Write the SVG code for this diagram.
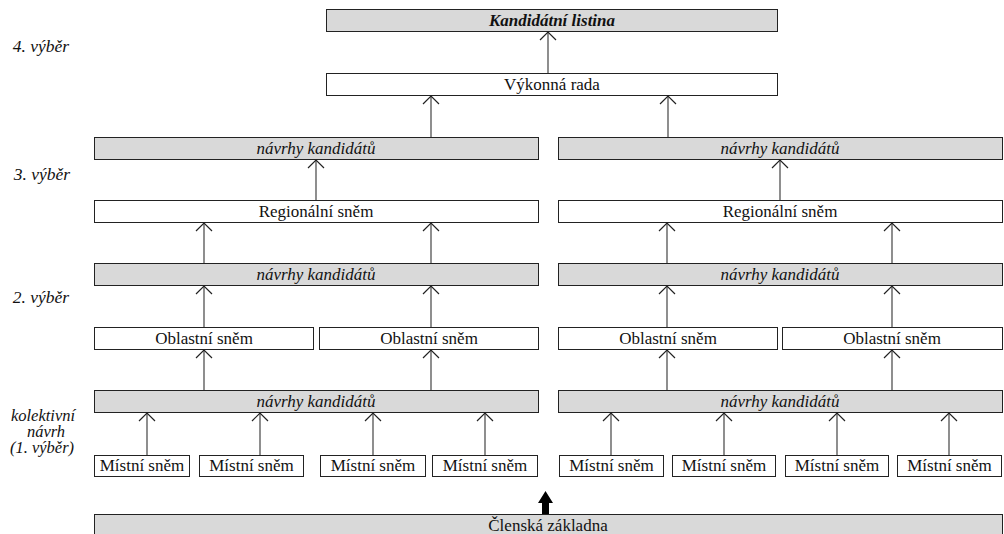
<svg xmlns="http://www.w3.org/2000/svg" width="1004" height="534" viewBox="0 0 1004 534">
  <style>
    .box { fill: #ffffff; stroke: #222; stroke-width: 1; }
    .shade { fill: #d9d9d9; stroke: #222; stroke-width: 1; }
    .t { font-size: 17px; fill: #111; text-anchor: middle; }
    .i { font-style: italic; }
    .b { font-weight: bold; }
    .lbl { font-size: 17.5px; font-style: italic; fill: #111; text-anchor: middle; }
    .lbl2 { font-size: 16.5px; font-style: italic; fill: #111; text-anchor: middle; }
    .conn line { stroke: #444; stroke-width: 1.2; fill: none; }
  </style>
  <defs>
    <marker id="open" viewBox="0 0 20 20" refX="10" refY="10" markerWidth="20" markerHeight="20" markerUnits="userSpaceOnUse" orient="auto">
      <path d="M2 2 L10 10 L2 18" fill="none" stroke="#222" stroke-width="1.2"/>
    </marker>
  </defs>

  <g font-family="'Liberation Serif', 'Times New Roman', 'DejaVu Serif', serif">
  <!-- level labels -->
  <g id="levels">
    <text class="lbl" x="41" y="52">4. výběr</text>
    <text class="lbl" x="42" y="180">3. výběr</text>
    <text class="lbl" x="41" y="303">2. výběr</text>
    <text class="lbl2" x="43" y="421">kolektivní</text>
    <text class="lbl2" x="46" y="437">návrh</text>
    <text class="lbl2" x="42" y="453">(1. výběr)</text>
  </g>

  <!-- top level -->
  <g id="kandidatni-listina">
    <rect class="shade" x="326.5" y="9.5" width="451" height="22"/>
    <text class="t i b" x="552" y="26">Kandidátní listina</text>
  </g>
  <g id="vykonna-rada">
    <rect class="box" x="326.5" y="73.5" width="451" height="22"/>
    <text class="t" x="552" y="90">Výkonná rada</text>
  </g>

  <!-- regional proposals -->
  <g id="navrhy-3-l">
    <rect class="shade" x="94.5" y="137.5" width="444" height="22"/>
    <text class="t i" x="316" y="154">návrhy kandidátů</text>
  </g>
  <g id="navrhy-3-r">
    <rect class="shade" x="558.5" y="137.5" width="444" height="22"/>
    <text class="t i" x="780" y="154">návrhy kandidátů</text>
  </g>
  <g id="regionalni-l">
    <rect class="box" x="94.5" y="200.5" width="444" height="22"/>
    <text class="t" x="316" y="217">Regionální sněm</text>
  </g>
  <g id="regionalni-r">
    <rect class="box" x="558.5" y="200.5" width="444" height="22"/>
    <text class="t" x="780" y="217">Regionální sněm</text>
  </g>

  <!-- area proposals -->
  <g id="navrhy-2-l">
    <rect class="shade" x="94.5" y="263.5" width="444" height="22"/>
    <text class="t i" x="316" y="280">návrhy kandidátů</text>
  </g>
  <g id="navrhy-2-r">
    <rect class="shade" x="558.5" y="263.5" width="444" height="22"/>
    <text class="t i" x="780" y="280">návrhy kandidátů</text>
  </g>
  <g id="oblastni-1">
    <rect class="box" x="94.5" y="327.5" width="219" height="22"/>
    <text class="t" x="204" y="344">Oblastní sněm</text>
  </g>
  <g id="oblastni-2">
    <rect class="box" x="319.5" y="327.5" width="219" height="22"/>
    <text class="t" x="429" y="344">Oblastní sněm</text>
  </g>
  <g id="oblastni-3">
    <rect class="box" x="558.5" y="327.5" width="219" height="22"/>
    <text class="t" x="668" y="344">Oblastní sněm</text>
  </g>
  <g id="oblastni-4">
    <rect class="box" x="782.5" y="327.5" width="220" height="22"/>
    <text class="t" x="892" y="344">Oblastní sněm</text>
  </g>

  <!-- local proposals -->
  <g id="navrhy-1-l">
    <rect class="shade" x="94.5" y="390.5" width="444" height="22"/>
    <text class="t i" x="316" y="407">návrhy kandidátů</text>
  </g>
  <g id="navrhy-1-r">
    <rect class="shade" x="558.5" y="390.5" width="444" height="22"/>
    <text class="t i" x="780" y="407">návrhy kandidátů</text>
  </g>
  <g id="mistni-1">
    <rect class="box" x="94.5" y="455.5" width="95" height="21"/>
    <text class="t" x="142" y="471">Místní sněm</text>
  </g>
  <g id="mistni-2">
    <rect class="box" x="199.5" y="455.5" width="104" height="21"/>
    <text class="t" x="251.5" y="471">Místní sněm</text>
  </g>
  <g id="mistni-3">
    <rect class="box" x="320.5" y="455.5" width="105" height="21"/>
    <text class="t" x="373" y="471">Místní sněm</text>
  </g>
  <g id="mistni-4">
    <rect class="box" x="432.5" y="455.5" width="105" height="21"/>
    <text class="t" x="485" y="471">Místní sněm</text>
  </g>
  <g id="mistni-5">
    <rect class="box" x="559.5" y="455.5" width="104" height="21"/>
    <text class="t" x="611.5" y="471">Místní sněm</text>
  </g>
  <g id="mistni-6">
    <rect class="box" x="672.5" y="455.5" width="103" height="21"/>
    <text class="t" x="724" y="471">Místní sněm</text>
  </g>
  <g id="mistni-7">
    <rect class="box" x="785.5" y="455.5" width="103" height="21"/>
    <text class="t" x="837" y="471">Místní sněm</text>
  </g>
  <g id="mistni-8">
    <rect class="box" x="897.5" y="455.5" width="104" height="21"/>
    <text class="t" x="949.5" y="471">Místní sněm</text>
  </g>

  <!-- membership base -->
  <g id="clenska-zakladna">
    <rect class="shade" x="94.5" y="514.5" width="908" height="30"/>
    <text class="t" x="548" y="531">Členská základna</text>
  </g>
  </g>

  <!-- connectors -->
  <g id="connectors" class="conn">
    <line x1="548" y1="73" x2="548" y2="32" marker-end="url(#open)"/>
    <line x1="431" y1="137" x2="431" y2="96" marker-end="url(#open)"/>
    <line x1="668" y1="137" x2="668" y2="96" marker-end="url(#open)"/>

    <line x1="316" y1="200" x2="316" y2="160" marker-end="url(#open)"/>
    <line x1="780" y1="200" x2="780" y2="160" marker-end="url(#open)"/>

    <line x1="204" y1="263" x2="204" y2="223" marker-end="url(#open)"/>
    <line x1="431" y1="263" x2="431" y2="223" marker-end="url(#open)"/>
    <line x1="667" y1="263" x2="667" y2="223" marker-end="url(#open)"/>
    <line x1="892" y1="263" x2="892" y2="223" marker-end="url(#open)"/>

    <line x1="204" y1="327" x2="204" y2="286" marker-end="url(#open)"/>
    <line x1="431" y1="327" x2="431" y2="286" marker-end="url(#open)"/>
    <line x1="667" y1="327" x2="667" y2="286" marker-end="url(#open)"/>
    <line x1="892" y1="327" x2="892" y2="286" marker-end="url(#open)"/>

    <line x1="204" y1="390" x2="204" y2="350" marker-end="url(#open)"/>
    <line x1="431" y1="390" x2="431" y2="350" marker-end="url(#open)"/>
    <line x1="667" y1="390" x2="667" y2="350" marker-end="url(#open)"/>
    <line x1="892" y1="390" x2="892" y2="350" marker-end="url(#open)"/>

    <line x1="147" y1="455" x2="147" y2="413" marker-end="url(#open)"/>
    <line x1="260" y1="455" x2="260" y2="413" marker-end="url(#open)"/>
    <line x1="373" y1="455" x2="373" y2="413" marker-end="url(#open)"/>
    <line x1="485" y1="455" x2="485" y2="413" marker-end="url(#open)"/>
    <line x1="611" y1="455" x2="611" y2="413" marker-end="url(#open)"/>
    <line x1="724" y1="455" x2="724" y2="413" marker-end="url(#open)"/>
    <line x1="837" y1="455" x2="837" y2="413" marker-end="url(#open)"/>
    <line x1="949" y1="455" x2="949" y2="413" marker-end="url(#open)"/>

    <!-- block arrow from the membership base -->
    <path d="M542 514 L542 503 L538 503 L545.5 491 L553 503 L549 503 L549 514 Z" fill="#000" stroke="none"/>
  </g>
</svg>
